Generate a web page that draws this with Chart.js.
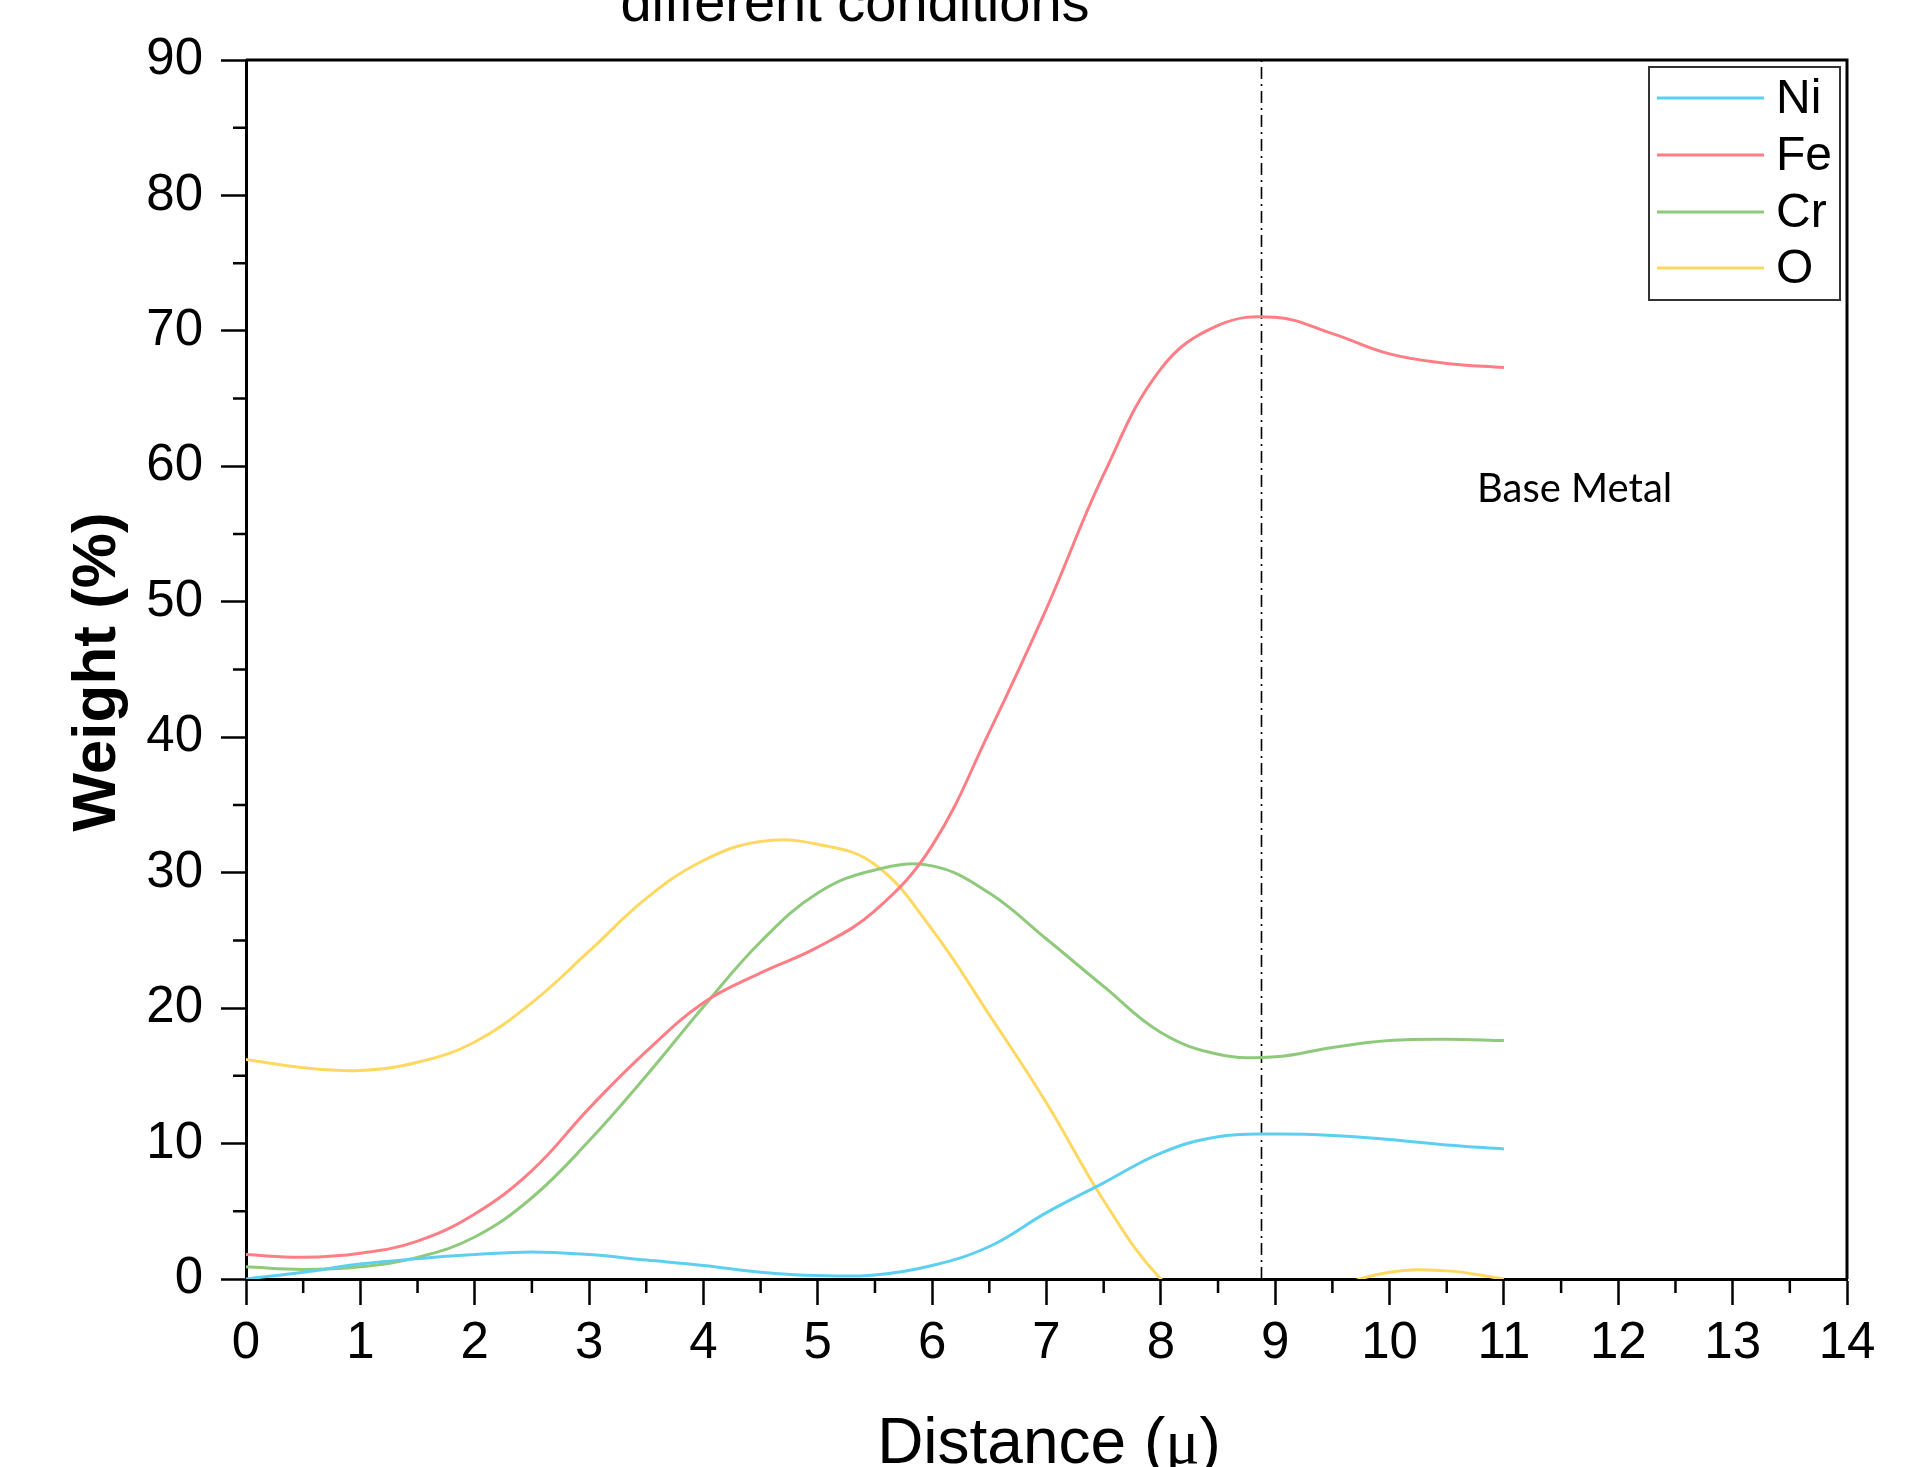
<!DOCTYPE html>
<html>
<head>
<meta charset="utf-8">
<script src="https://cdn.jsdelivr.net/npm/chart.js@4.4.1/dist/chart.umd.min.js"></script>
<style>
  html, body { margin: 0; padding: 0; background: #fff; }
  canvas { display: block; }
</style>
</head>
<body>
<canvas id="profileChart" width="1917" height="1467"></canvas>
<script>
// distance along the line scan (µ) and weight % per element
const distance = [0, 0.5, 1, 1.5, 2, 2.5, 3, 3.5, 4, 4.5, 5, 5.5, 6, 6.5, 7, 7.5, 8, 8.5, 9, 9.5, 10, 10.5, 11];
const ni = [0, 0.5, 1.1, 1.5, 1.8, 2.0, 1.8, 1.4, 1.0, 0.5, 0.25, 0.3, 1.0, 2.4, 4.9, 7.1, 9.3, 10.5, 10.7, 10.6, 10.3, 9.9, 9.6];
const fe = [1.8, 1.6, 1.9, 2.8, 4.8, 8.0, 12.6, 16.8, 20.4, 22.6, 24.5, 27.2, 32.0, 40.4, 49.5, 59.4, 67.2, 70.4, 71.0, 69.8, 68.3, 67.6, 67.3];
const cr = [0.9, 0.7, 0.9, 1.6, 3.1, 6.0, 10.2, 15.0, 20.1, 24.9, 28.5, 30.2, 30.5, 28.5, 25.1, 21.6, 18.2, 16.6, 16.4, 17.1, 17.6, 17.7, 17.6];
const oxy = [16.2, 15.6, 15.4, 16.0, 17.5, 20.4, 24.2, 28.1, 30.9, 32.3, 32.1, 30.6, 25.8, 19.5, 13.0, 5.8, 0, -3, -3.2, -0.8, 0.5, 0.6, 0];

const seriesNames = ['Ni', 'Fe', 'Cr', 'O'];
const seriesColors = ['#5dcff0', '#ff7e86', '#8fca7c', '#ffd862'];

const xTickValues = [0, 1, 2, 3, 4, 5, 6, 7, 8, 9, 10, 11, 12, 13, 14];
const yTickValues = [0, 10, 20, 30, 40, 50, 60, 70, 80, 90];
const xMinorTicks = [0.5, 1.5, 2.5, 3.5, 4.5, 5.5, 6.5, 7.5, 8.5, 9.5, 10.5, 11.5, 12.5, 13.5];
const yMinorTicks = [5, 15, 25, 35, 45, 55, 65, 75, 85];

const boundaryX = 8.88; // dash-dot line
const boundaryY = [0, 90];

const toPoints = ys => distance.map((x, i) => ({ x: x, y: ys[i] }));

const SANS = '"Liberation Sans", Arial, sans-serif';

// extra drawing: frame, minor ticks, legend, labels
const decorations = {
    id: 'decorations',
    afterDraw(chart) {
        const ctx = chart.ctx;
        const area = chart.chartArea;
        const xs = chart.scales.x;
        const ys = chart.scales.y;
        ctx.save();

        // top and right frame
        ctx.strokeStyle = '#000';
        ctx.lineWidth = 3;
        ctx.beginPath();
        ctx.moveTo(area.left, area.top);
        ctx.lineTo(area.right, area.top);
        ctx.lineTo(area.right, area.bottom);
        ctx.stroke();

        // minor ticks
        ctx.lineWidth = 2.5;
        ctx.beginPath();
        xMinorTicks.forEach(v => {
            const px = xs.getPixelForValue(v);
            ctx.moveTo(px, area.bottom);
            ctx.lineTo(px, area.bottom + 14);
        });
        yMinorTicks.forEach(v => {
            const py = ys.getPixelForValue(v);
            ctx.moveTo(area.left, py);
            ctx.lineTo(area.left - 13, py);
        });
        ctx.stroke();

        // legend
        ctx.fillStyle = '#fff';
        ctx.fillRect(1649, 67, 191, 233);
        ctx.strokeStyle = '#333';
        ctx.lineWidth = 2;
        ctx.strokeRect(1649, 67, 191, 233);
        const rows = [98, 155, 212, 268];
        ctx.font = '48px ' + SANS;
        ctx.textBaseline = 'middle';
        ctx.textAlign = 'left';
        seriesNames.forEach((name, i) => {
            ctx.strokeStyle = seriesColors[i];
            ctx.lineWidth = 3.2;
            ctx.beginPath();
            ctx.moveTo(1657, rows[i]);
            ctx.lineTo(1764, rows[i]);
            ctx.stroke();
            ctx.fillStyle = '#000';
            ctx.fillText(name, 1776, rows[i] + 2);
        });

        // cut-off title at the top
        ctx.fillStyle = '#000';
        ctx.textBaseline = 'alphabetic';
        ctx.textAlign = 'center';
        ctx.font = '56px ' + SANS;
        ctx.fillText('different conditions', 855, 21);

        // Base Metal note
        ctx.textAlign = 'left';
        ctx.font = '40px Lato, "Open Sans", sans-serif';
        ctx.fillText('Base Metal', 1477, 502);

        // x axis title with a serif mu
        const partA = 'Distance (';
        const partB = 'μ';
        const partC = ')';
        const fa = '64px ' + SANS;
        const fb = '64px "Liberation Serif", "Times New Roman", serif';
        ctx.font = fa;
        const wa = ctx.measureText(partA).width;
        const wc = ctx.measureText(partC).width;
        ctx.font = fb;
        const wb = ctx.measureText(partB).width;
        let tx = 1049 - (wa + wb + wc) / 2;
        const ty = 1463;
        ctx.font = fa;
        ctx.fillText(partA, tx, ty);
        tx += wa;
        ctx.font = fb;
        ctx.fillText(partB, tx, ty);
        tx += wb;
        ctx.font = fa;
        ctx.fillText(partC, tx, ty);

        // y axis title
        ctx.translate(115, 672);
        ctx.rotate(-Math.PI / 2);
        ctx.textAlign = 'center';
        ctx.font = 'bold 62px ' + SANS;
        ctx.fillText('Weight (%)', 0, 0);

        ctx.restore();
    }
};

const lineSet = (name, values, color) => ({
    label: name,
    data: toPoints(values),
    borderColor: color,
    borderWidth: 3,
    pointRadius: 0,
    fill: false,
    tension: 0.4
});

const ctx = document.getElementById('profileChart').getContext('2d');
new Chart(ctx, {
    type: 'line',
    data: {
        datasets: [
            lineSet('Ni', ni, seriesColors[0]),
            lineSet('Fe', fe, seriesColors[1]),
            lineSet('Cr', cr, seriesColors[2]),
            lineSet('O', oxy, seriesColors[3]),
            {
                label: 'boundary',
                data: boundaryY.map(y => ({ x: boundaryX, y: y })),
                borderColor: '#000',
                borderWidth: 1.6,
                borderDash: [12, 5, 2, 5],
                pointRadius: 0,
                tension: 0
            }
        ]
    },
    options: {
        responsive: false,
        animation: false,
        layout: { padding: { top: 60, right: 70, left: 0, bottom: 0 } },
        plugins: {
            legend: { display: false },
            tooltip: { enabled: false }
        },
        scales: {
            x: {
                type: 'linear',
                min: 0,
                max: 14,
                afterBuildTicks: scale => { scale.ticks = xTickValues.map(v => ({ value: v })); },
                afterFit: scale => { scale.height = 188; },
                ticks: {
                    color: '#000',
                    font: { family: SANS, size: 51 },
                    padding: 8,
                    maxRotation: 0,
                    autoSkip: false
                },
                grid: {
                    drawOnChartArea: false,
                    drawTicks: true,
                    tickLength: 26,
                    tickWidth: 2.5,
                    tickColor: '#000'
                },
                border: { color: '#000', width: 3 }
            },
            y: {
                min: 0,
                max: 90,
                afterBuildTicks: scale => { scale.ticks = yTickValues.map(v => ({ value: v })); },
                afterFit: scale => { scale.width = 246; },
                ticks: {
                    color: '#000',
                    font: { family: SANS, size: 51 },
                    padding: 18,
                    autoSkip: false
                },
                grid: {
                    drawOnChartArea: false,
                    drawTicks: true,
                    tickLength: 25,
                    tickWidth: 2.5,
                    tickColor: '#000'
                },
                border: { color: '#000', width: 3 }
            }
        }
    },
    plugins: [decorations]
});
</script>
</body>
</html>
